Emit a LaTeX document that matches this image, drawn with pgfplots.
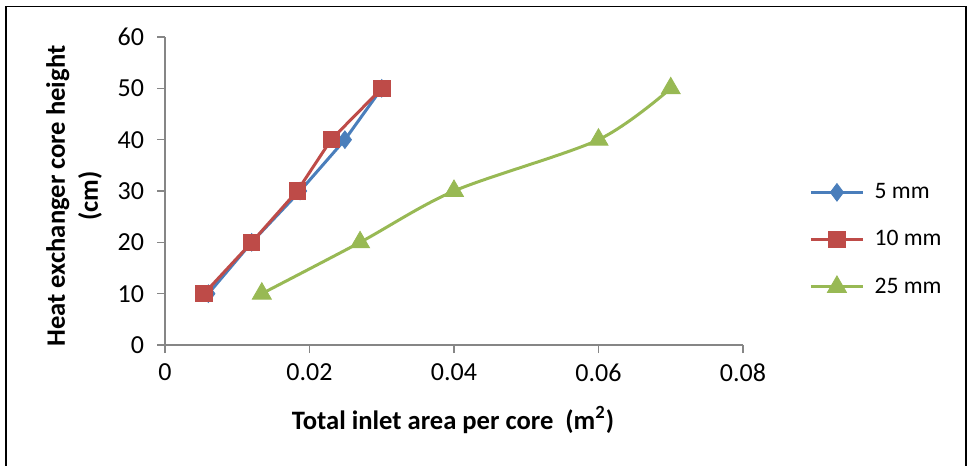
\documentclass[border=0pt]{standalone}
\usepackage{pgfplots}
\pgfplotsset{compat=1.18}
\usepackage{fontspec}
\setmainfont{Carlito}
\definecolor{cblue}{RGB}{74,126,187}
\definecolor{cred}{RGB}{190,75,72}
\definecolor{cgreen}{RGB}{152,185,84}
\definecolor{axgray}{RGB}{134,134,134}
\begin{document}
\begin{tikzpicture}
\path[use as bounding box] (0pt,0pt) rectangle (485.5pt,-233pt);
\draw[line width=0.6pt] (3pt,-240pt) -- (3pt,-3.3pt) -- (483pt,-3.3pt) -- (483pt,-240pt);
\begin{axis}[
  at={(82.5pt,-172.5pt)}, anchor=south west,
  scale only axis, width=289pt, height=154pt,
  xmin=0, xmax=0.08, ymin=0, ymax=60,
  xtick={0,0.02,0.04,0.06,0.08},
  xticklabels={0,0.02,0.04,0.06,0.08},
  scaled x ticks=false,
  ytick={0,10,...,60},
  axis lines*=left,
  axis line style={draw=axgray, line width=0.6pt},
  tick style={draw=axgray, line width=0.6pt},
  tick align=outside, major tick length=4pt,
  /pgf/number format/assume math mode=true,
  tick label style={font=\fontsize{13}{15}\selectfont},
  xticklabel style={yshift=-2pt},
  yticklabel style={xshift=-3pt},
  clip=false,
  legend style={draw=none, fill=none, at={(rel axis cs:1.114,0.342)}, anchor=west,
    font=\fontsize{11.8}{14}\selectfont, row sep=10.5pt, inner sep=0pt,
    /tikz/every odd column/.append style={column sep=3pt}},
  legend cell align=left,
  legend image code/.code={\draw[mark repeat=2,mark phase=2] plot coordinates {(0cm,0cm)(0.46cm,0cm)(0.92cm,0cm)};},
]
\addplot[color=cblue, line width=1.5pt, mark=diamond*, mark size=4.4pt, mark options={fill=cblue, draw=cblue, line width=0.4pt}]
  coordinates {(0.006,10) (0.012,20) (0.0187,30) (0.0249,40) (0.030,50)};
\addlegendentry{5 mm}
\addplot[color=cred, line width=1.5pt, mark=square*, mark size=4.1pt, mark options={fill=cred, draw=cred, line width=0.4pt}]
  coordinates {(0.0054,10) (0.012,20) (0.0183,30) (0.023,40) (0.030,50)};
\addlegendentry{10 mm}
\addplot[color=cgreen, line width=1.5pt, smooth, mark=triangle*, mark size=5.5pt, mark options={fill=cgreen, draw=cgreen, line width=0.4pt}]
  coordinates {(0.0134,10) (0.027,20) (0.040,30) (0.060,40) (0.070,50)};
\addlegendentry{25 mm}
\end{axis}
\node[font=\fontsize{13.3}{16.5}\selectfont\bfseries, rotate=90, align=center] at (37pt,-98pt) {Heat exchanger core height\\(cm)};
\node[font=\fontsize{13.3}{15}\selectfont\bfseries] at (226.5pt,-210pt) {Total inlet area per core\ \ (m\textsuperscript{2})};
\end{tikzpicture}
\end{document}
